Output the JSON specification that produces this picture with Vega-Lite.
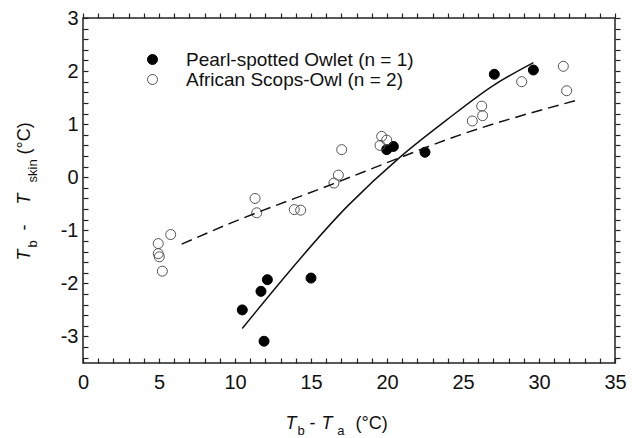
{
  "$schema": "https://vega.github.io/schema/vega-lite/v6.json",
  "width": 532,
  "height": 345,
  "autosize": {"type": "none"},
  "padding": {"left": 83, "top": 18, "right": 21, "bottom": 75},
  "background": "white",
  "config": {
    "view": {"stroke": "#222", "strokeWidth": 1.5},
    "font": "Liberation Sans",
    "axis": {
      "grid": false,
      "domain": false,
      "labelFont": "Liberation Sans",
      "titleFont": "Liberation Sans",
      "labelFontSize": 20,
      "labelColor": "#111",
      "titleColor": "#111",
      "titleFontWeight": "normal",
      "tickColor": "#222",
      "tickWidth": 1.2,
      "ticks": true,
      "labelOverlap": false,
      "labelFlush": false,
      "labelBound": false
    },
    "legend": {
      "labelFont": "Liberation Sans",
      "labelFontSize": 19,
      "labelColor": "#111",
      "labelLimit": 400
    }
  },
  "datasets": {
    "pts": [
      {"species": "Pearl-spotted Owlet (n = 1)", "x": 10.48, "y": -2.50},
      {"species": "Pearl-spotted Owlet (n = 1)", "x": 11.71, "y": -2.15},
      {"species": "Pearl-spotted Owlet (n = 1)", "x": 11.91, "y": -3.09},
      {"species": "Pearl-spotted Owlet (n = 1)", "x": 12.13, "y": -1.93},
      {"species": "Pearl-spotted Owlet (n = 1)", "x": 15.0, "y": -1.90},
      {"species": "Pearl-spotted Owlet (n = 1)", "x": 19.98, "y": 0.52},
      {"species": "Pearl-spotted Owlet (n = 1)", "x": 20.42, "y": 0.58},
      {"species": "Pearl-spotted Owlet (n = 1)", "x": 22.5, "y": 0.47},
      {"species": "Pearl-spotted Owlet (n = 1)", "x": 27.06, "y": 1.94},
      {"species": "Pearl-spotted Owlet (n = 1)", "x": 29.63, "y": 2.02},
      {"species": "African Scops-Owl (n = 2)", "x": 4.95, "y": -1.25},
      {"species": "African Scops-Owl (n = 2)", "x": 4.95, "y": -1.44},
      {"species": "African Scops-Owl (n = 2)", "x": 5.02, "y": -1.50},
      {"species": "African Scops-Owl (n = 2)", "x": 5.22, "y": -1.77},
      {"species": "African Scops-Owl (n = 2)", "x": 5.77, "y": -1.08},
      {"species": "African Scops-Owl (n = 2)", "x": 11.32, "y": -0.40},
      {"species": "African Scops-Owl (n = 2)", "x": 11.43, "y": -0.67},
      {"species": "African Scops-Owl (n = 2)", "x": 13.9, "y": -0.61},
      {"species": "African Scops-Owl (n = 2)", "x": 14.32, "y": -0.62},
      {"species": "African Scops-Owl (n = 2)", "x": 16.51, "y": -0.11},
      {"species": "African Scops-Owl (n = 2)", "x": 16.8, "y": 0.04},
      {"species": "African Scops-Owl (n = 2)", "x": 17.02, "y": 0.52},
      {"species": "African Scops-Owl (n = 2)", "x": 19.54, "y": 0.60},
      {"species": "African Scops-Owl (n = 2)", "x": 19.65, "y": 0.77},
      {"species": "African Scops-Owl (n = 2)", "x": 19.98, "y": 0.70},
      {"species": "African Scops-Owl (n = 2)", "x": 25.61, "y": 1.06},
      {"species": "African Scops-Owl (n = 2)", "x": 26.23, "y": 1.34},
      {"species": "African Scops-Owl (n = 2)", "x": 26.29, "y": 1.16},
      {"species": "African Scops-Owl (n = 2)", "x": 28.86, "y": 1.80},
      {"species": "African Scops-Owl (n = 2)", "x": 31.6, "y": 2.09},
      {"species": "African Scops-Owl (n = 2)", "x": 31.82, "y": 1.63}
    ],
    "fits": [
      {"fit": "owlet", "x": 10.48, "y": -2.85},
      {"fit": "owlet", "x": 11.53, "y": -2.48},
      {"fit": "owlet", "x": 17.45, "y": -0.53},
      {"fit": "owlet", "x": 20.86, "y": 0.38},
      {"fit": "owlet", "x": 23.93, "y": 1.08},
      {"fit": "owlet", "x": 27.06, "y": 1.74},
      {"fit": "owlet", "x": 29.63, "y": 2.16},
      {"fit": "scops", "x": 6.49, "y": -1.26},
      {"fit": "scops", "x": 9.67, "y": -0.87},
      {"fit": "scops", "x": 16.5, "y": -0.12},
      {"fit": "scops", "x": 20.86, "y": 0.37},
      {"fit": "scops", "x": 24.14, "y": 0.73},
      {"fit": "scops", "x": 32.48, "y": 1.45}
    ]
  },
  "layer": [
    {
      "data": {"name": "pts"},
      "transform": [{"filter": "datum.species === 'Pearl-spotted Owlet (n = 1)'"}],
      "mark": {"type": "point", "shape": "circle", "size": 100, "strokeWidth": 1, "opacity": 1},
      "encoding": {
        "x": {
          "field": "x", "type": "quantitative",
          "scale": {"domain": [0, 35], "nice": false, "zero": false},
          "axis": {
            "orient": "bottom",
            "values": [0,1,2,3,4,5,6,7,8,9,10,11,12,13,14,15,16,17,18,19,20,21,22,23,24,25,26,27,28,29,30,31,32,33,34,35],
            "labelExpr": "datum.value % 5 === 0 ? datum.label : ''",
            "ticks": true,
            "tickSize": -5,
            "encode": {"ticks": {"update": {"y2": {"signal": "datum.value % 5 === 0 ? -9 : -5"}}}},
            "labelPadding": 14,
            "title": "T\u00a0\u00a0\u00a0\u00a0\u00a0T",
            "titleFontStyle": "italic",
            "titleFontSize": 18,
            "titleX": 202,
            "titleY": 65,
            "titleAlign": "left",
            "titleBaseline": "alphabetic",
            "titleAngle": 0
          }
        },
        "y": {
          "field": "y", "type": "quantitative",
          "scale": {"domain": [-3.5, 3], "nice": false, "zero": false},
          "axis": {
            "orient": "left",
            "values": [-3.4,-3.2,-3,-2.8,-2.6,-2.4,-2.2,-2,-1.8,-1.6,-1.4,-1.2,-1,-0.8,-0.6,-0.4,-0.2,0,0.2,0.4,0.6,0.8,1,1.2,1.4,1.6,1.8,2,2.2,2.4,2.6,2.8,3],
            "labelExpr": "abs(datum.value - round(datum.value)) < 0.001 ? (datum.value < 0 ? '-' + abs(round(datum.value)) : '' + round(datum.value)) : ''",
            "ticks": true,
            "tickSize": -5,
            "encode": {"ticks": {"update": {"x2": {"signal": "abs(datum.value - round(datum.value)) < 0.001 ? 9 : 5"}}}},
            "labelPadding": 10,
            "title": "T\u00a0\u00a0\u00a0\u00a0\u00a0\u00a0\u00a0\u00a0\u00a0T",
            "titleFontStyle": "italic",
            "titleFontSize": 18,
            "titleX": -54,
            "titleY": 242,
            "titleAlign": "left",
            "titleBaseline": "alphabetic",
            "titleAngle": -90
          }
        },
        "fill": {
          "field": "species", "type": "nominal",
          "scale": {"domain": ["Pearl-spotted Owlet (n = 1)", "African Scops-Owl (n = 2)"], "range": ["#000000", "rgba(255,255,255,0)"]},
          "legend": {"orient": "none", "legendX": 60, "legendY": 32, "title": null, "symbolType": "circle", "symbolSize": 100, "symbolStrokeWidth": 1, "labelOffset": 24, "rowPadding": 0, "padding": 0}
        },
        "stroke": {
          "field": "species", "type": "nominal",
          "scale": {"domain": ["Pearl-spotted Owlet (n = 1)", "African Scops-Owl (n = 2)"], "range": ["#000000", "#555555"]},
          "legend": {"orient": "none", "legendX": 60, "legendY": 32, "title": null, "symbolType": "circle", "symbolSize": 100, "symbolStrokeWidth": 1, "labelOffset": 24, "rowPadding": 0, "padding": 0}
        }
      }
    },
    {
      "data": {"name": "pts"},
      "transform": [{"filter": "datum.species === 'African Scops-Owl (n = 2)'"}],
      "mark": {"type": "point", "shape": "circle", "size": 100, "strokeWidth": 1, "opacity": 1},
      "encoding": {
        "x": {
          "field": "x", "type": "quantitative",
          "scale": {"domain": [0, 35], "nice": false, "zero": false},
          "axis": {
            "orient": "top",
            "values": [0,1,2,3,4,5,6,7,8,9,10,11,12,13,14,15,16,17,18,19,20,21,22,23,24,25,26,27,28,29,30,31,32,33,34,35],
            "labels": false,
            "ticks": true,
            "tickSize": 5,
            "encode": {"ticks": {"update": {"y2": {"signal": "datum.value % 5 === 0 ? 9 : 5"}}}},
            "title": null
          }
        },
        "y": {
          "field": "y", "type": "quantitative",
          "scale": {"domain": [-3.5, 3], "nice": false, "zero": false},
          "axis": {
            "orient": "right",
            "values": [-3.4,-3.2,-3,-2.8,-2.6,-2.4,-2.2,-2,-1.8,-1.6,-1.4,-1.2,-1,-0.8,-0.6,-0.4,-0.2,0,0.2,0.4,0.6,0.8,1,1.2,1.4,1.6,1.8,2,2.2,2.4,2.6,2.8,3],
            "labels": false,
            "ticks": true,
            "tickSize": 5,
            "encode": {"ticks": {"update": {"x2": {"signal": "abs(datum.value - round(datum.value)) < 0.001 ? -9 : -5"}}}},
            "title": null
          }
        },
        "fill": {
          "field": "species", "type": "nominal",
          "scale": {"domain": ["Pearl-spotted Owlet (n = 1)", "African Scops-Owl (n = 2)"], "range": ["#000000", "rgba(255,255,255,0)"]},
          "legend": {"orient": "none", "legendX": 60, "legendY": 32, "title": null, "symbolType": "circle", "symbolSize": 100, "symbolStrokeWidth": 1, "labelOffset": 24, "rowPadding": 0, "padding": 0}
        },
        "stroke": {
          "field": "species", "type": "nominal",
          "scale": {"domain": ["Pearl-spotted Owlet (n = 1)", "African Scops-Owl (n = 2)"], "range": ["#000000", "#555555"]},
          "legend": {"orient": "none", "legendX": 60, "legendY": 32, "title": null, "symbolType": "circle", "symbolSize": 100, "symbolStrokeWidth": 1, "labelOffset": 24, "rowPadding": 0, "padding": 0}
        }
      }
    },
    {
      "data": {"name": "fits"},
      "transform": [{"filter": "datum.fit === 'owlet'"}],
      "mark": {"type": "line", "color": "#111", "strokeWidth": 1.5, "interpolate": "monotone"},
      "encoding": {
        "x": {
          "field": "x", "type": "quantitative",
          "scale": {"domain": [0, 35], "nice": false, "zero": false},
          "axis": {
            "orient": "bottom", "labels": false, "ticks": false, "domain": false,
            "title": "b\u00a0\u00a0\u00a0\u00a0\u00a0\u00a0\u00a0\u00a0\u00a0a",
            "titleFontSize": 13,
            "titleX": 214,
            "titleY": 71,
            "titleAlign": "left",
            "titleBaseline": "alphabetic",
            "titleAngle": 0
          }
        },
        "y": {
          "field": "y", "type": "quantitative",
          "scale": {"domain": [-3.5, 3], "nice": false, "zero": false},
          "axis": {
            "orient": "left", "labels": false, "ticks": false, "domain": false,
            "title": "b\u00a0\u00a0\u00a0\u00a0\u00a0\u00a0\u00a0\u00a0\u00a0\u00a0\u00a0\u00a0\u00a0\u00a0\u00a0\u00a0skin",
            "titleFontSize": 13,
            "titleX": -47,
            "titleY": 229,
            "titleAlign": "left",
            "titleBaseline": "alphabetic",
            "titleAngle": -90
          }
        }
      }
    },
    {
      "data": {"name": "fits"},
      "transform": [{"filter": "datum.fit === 'scops'"}],
      "mark": {"type": "line", "color": "#111", "strokeWidth": 1.5, "strokeDash": [11, 6], "interpolate": "monotone"},
      "encoding": {
        "x": {
          "field": "x", "type": "quantitative",
          "scale": {"domain": [0, 35], "nice": false, "zero": false},
          "axis": {
            "orient": "bottom", "labels": false, "ticks": false, "domain": false,
            "title": "-\u00a0\u00a0\u00a0\u00a0\u00a0\u00a0\u00a0\u00a0(°C)",
            "titleFontSize": 18,
            "titleX": 226,
            "titleY": 65,
            "titleAlign": "left",
            "titleBaseline": "alphabetic",
            "titleAngle": 0
          }
        },
        "y": {
          "field": "y", "type": "quantitative",
          "scale": {"domain": [-3.5, 3], "nice": false, "zero": false},
          "axis": {
            "orient": "left", "labels": false, "ticks": false, "domain": false,
            "title": "-\u00a0\u00a0\u00a0\u00a0\u00a0\u00a0\u00a0\u00a0\u00a0\u00a0\u00a0\u00a0\u00a0\u00a0(°C)",
            "titleFontSize": 18,
            "titleX": -54,
            "titleY": 212,
            "titleAlign": "left",
            "titleBaseline": "alphabetic",
            "titleAngle": -90
          }
        }
      }
    }
  ],
  "resolve": {"axis": {"x": "independent", "y": "independent"}}
}
